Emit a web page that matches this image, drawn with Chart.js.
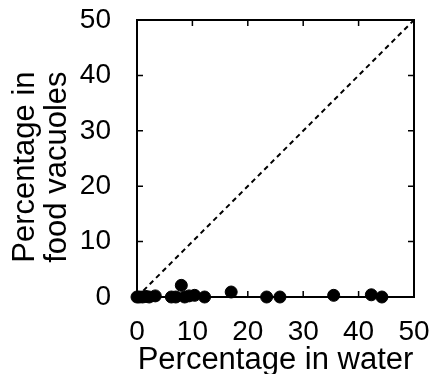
<!DOCTYPE html>
<html>
<head>
<meta charset="utf-8">
<script src="https://cdn.jsdelivr.net/npm/chart.js@4.4.1/dist/chart.umd.min.js"></script>
<style>
  html, body { margin: 0; padding: 0; background: #fff; }
  #wrap { width: 431px; height: 374px; }
</style>
</head>
<body>
<div id="wrap"><canvas id="chart"></canvas></div>
<script>
// values
const waterPct   = [0, 0.4, 1, 1.6, 2.2, 3.3, 6.2, 7, 8, 8.6, 9.4, 10.4, 12.2, 17, 23.4, 25.8, 35.5, 42.3, 44.2];
const vacuolePct = [0, 0, 0, 0.1, 0, 0.2, 0, 0, 2.1, 0, 0.2, 0.3, 0, 0.9, 0, 0, 0.3, 0.4, 0];
const identityLine = [0, 50];
const tickValues = [0, 10, 20, 30, 40, 50];

const points = waterPct.map((x, i) => ({ x: x, y: vacuolePct[i] }));
const diag = identityLine.map(v => ({ x: v, y: v }));

const tickFont = { family: 'Liberation Sans, Arial, sans-serif', size: 28 };
const titleFont = { family: 'Liberation Sans, Arial, sans-serif', size: 31, lineHeight: 1.05 };

// frame + inward tick marks, placed through the chart's own scales
const framePlugin = {
  id: 'frame',
  afterDatasetsDraw(chart) {
    const { ctx, chartArea: a, scales: { x, y } } = chart;
    const len = 6;
    ctx.save();
    ctx.strokeStyle = '#000';
    ctx.lineWidth = 1.5;
    ctx.beginPath();
    tickValues.forEach(v => {
      const px = x.getPixelForValue(v), py = y.getPixelForValue(v);
      ctx.moveTo(px, a.bottom); ctx.lineTo(px, a.bottom - len);
      ctx.moveTo(px, a.top); ctx.lineTo(px, a.top + len);
      ctx.moveTo(a.left, py); ctx.lineTo(a.left + len, py);
      ctx.moveTo(a.right, py); ctx.lineTo(a.right - len, py);
    });
    ctx.stroke();
    ctx.lineWidth = 2;
    ctx.strokeRect(a.left, a.top, a.right - a.left, a.bottom - a.top);
    ctx.restore();
  }
};

new Chart(document.getElementById('chart'), {
  type: 'scatter',
  data: {
    datasets: [
      { data: diag, showLine: true, borderColor: '#000', borderWidth: 2, borderDash: [5, 4],
        pointRadius: 0, fill: false, order: 2 },
      { data: points, backgroundColor: '#000', borderColor: '#000', pointRadius: 6,
        pointHoverRadius: 6, clip: false, order: 1 }
    ]
  },
  options: {
    responsive: true, maintainAspectRatio: false, animation: false,
    layout: { padding: { left: 0, top: 20, right: 17, bottom: 0 } },
    plugins: { legend: { display: false }, tooltip: { enabled: false } },
    scales: {
      x: {
        type: 'linear', min: 0, max: 50,
        grid: { display: false }, border: { display: false },
        ticks: { stepSize: 10, color: '#000', font: tickFont, padding: 10, maxRotation: 0 },
        title: { display: true, text: 'Percentage in water', color: '#000', font: titleFont, padding: { top: 0, bottom: -3 } },
        afterFit: s => { s.height = 77; s.paddingLeft = 0; s.paddingRight = 0; }
      },
      y: {
        type: 'linear', min: 0, max: 50,
        grid: { display: false }, border: { display: false },
        ticks: { stepSize: 10, color: '#000', font: tickFont, padding: 18 },
        title: { display: true, text: ['Percentage in  ', 'food vacuoles  '], color: '#000', font: titleFont, padding: { top: 9, bottom: 0 } },
        afterFit: s => { s.width = 137; s.paddingTop = 0; s.paddingBottom = 0; }
      }
    }
  },
  plugins: [framePlugin]
});
</script>
</body>
</html>
